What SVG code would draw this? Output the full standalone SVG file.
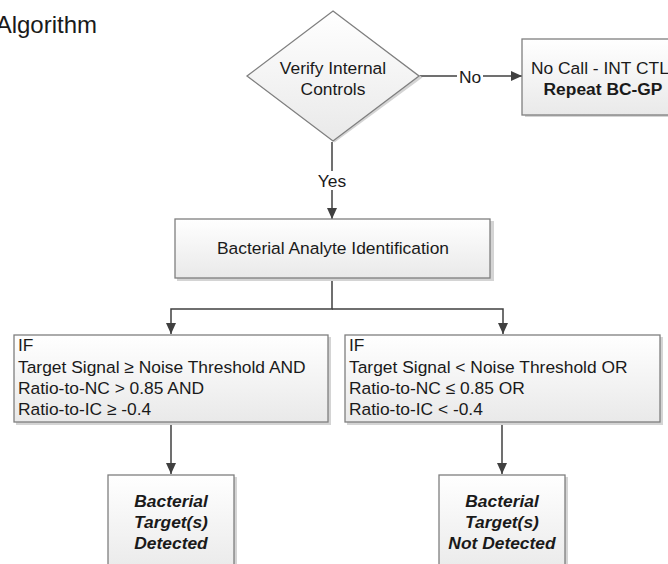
<svg xmlns="http://www.w3.org/2000/svg" width="668" height="564" viewBox="0 0 668 564">
<defs>
<linearGradient id="g" x1="0" y1="0" x2="0" y2="1">
<stop offset="0" stop-color="#ffffff"/>
<stop offset="1" stop-color="#e9e9e9"/>
</linearGradient>
<marker id="arr" markerWidth="12" markerHeight="12" refX="11" refY="5" orient="auto" markerUnits="userSpaceOnUse">
<path d="M0,0 L11,5 L0,10 Z" fill="#404040"/>
</marker>
<style>
text{font-family:"Liberation Sans",Arial,sans-serif;font-size:17.4px;fill:#1a1a1a}
.box{fill:url(#g);stroke:#7f7f7f;stroke-width:1.3}
.sh{fill:#d4d4d4}
.ln{stroke:#404040;stroke-width:1.5;fill:none}
.b{font-weight:bold}
.bi{font-weight:bold;font-style:italic}
.lbl{fill:#ffffff}
</style>
</defs>
<rect width="668" height="564" fill="#ffffff"/>
<text x="97" y="33" text-anchor="end" style="font-size:24px">Algorithm</text>

<g id="connectors">
<line class="ln" x1="419" y1="76" x2="522" y2="76" marker-end="url(#arr)"/>
<rect class="lbl" x="457" y="68" width="26" height="17"/>
<text x="470" y="83" text-anchor="middle">No</text>
<line class="ln" x1="332" y1="142" x2="332" y2="219" marker-end="url(#arr)"/>
<rect class="lbl" x="316" y="171" width="33" height="19"/>
<text x="332" y="187" text-anchor="middle">Yes</text>
<polyline class="ln" points="332,278 332,309 171,309 171,334" marker-end="url(#arr)"/>
<polyline class="ln" points="332,309 503,309 503,334" marker-end="url(#arr)"/>
<line class="ln" x1="171" y1="422" x2="171" y2="474" marker-end="url(#arr)"/>
<line class="ln" x1="502" y1="422" x2="502" y2="474" marker-end="url(#arr)"/>
</g>

<g id="verify">
<polygon points="333,11 421,76 333,141 247,76" fill="#d4d4d4" transform="translate(1.5,1.5)"/>
<polygon class="box" points="333,11 419,76 333,141 247,76"/>
<text x="333" y="74" text-anchor="middle">Verify Internal</text>
<text x="333" y="95" text-anchor="middle">Controls</text>
</g>

<g id="nocall">
<rect class="sh" x="525" y="41" width="160" height="76"/>
<rect class="box" x="522" y="39" width="160" height="76"/>
<text x="531" y="74">No Call - INT CTL</text>
<text x="603" y="95" text-anchor="middle" class="b">Repeat BC-GP</text>
</g>

<g id="bacterial">
<rect class="sh" x="177" y="221" width="317" height="60"/>
<rect class="box" x="175" y="219" width="315" height="59"/>
<text x="333" y="254" text-anchor="middle">Bacterial Analyte Identification</text>
</g>

<g id="ifdetected">
<rect class="sh" x="16" y="337" width="315" height="88"/>
<rect class="box" x="14" y="335" width="314" height="87"/>
<text x="18" y="351">IF</text>
<text x="18" y="373">Target Signal ≥ Noise Threshold AND</text>
<text x="18" y="394">Ratio-to-NC &gt; 0.85 AND</text>
<text x="18" y="415">Ratio-to-IC ≥ -0.4</text>
</g>

<g id="ifnotdetected">
<rect class="sh" x="347" y="337" width="316" height="88"/>
<rect class="box" x="345" y="335" width="315" height="87"/>
<text x="349" y="351">IF</text>
<text x="349" y="373">Target Signal &lt; Noise Threshold OR</text>
<text x="349" y="394">Ratio-to-NC ≤ 0.85 OR</text>
<text x="349" y="415">Ratio-to-IC &lt; -0.4</text>
</g>

<g id="detected">
<rect class="sh" x="110" y="477" width="127" height="100"/>
<rect class="box" x="108" y="475" width="126" height="100"/>
<text x="171" y="507" text-anchor="middle" class="bi">Bacterial</text>
<text x="171" y="528" text-anchor="middle" class="bi">Target(s)</text>
<text x="171" y="549" text-anchor="middle" class="bi">Detected</text>
</g>

<g id="notdetected">
<rect class="sh" x="441" y="477" width="127" height="100"/>
<rect class="box" x="439" y="475" width="126" height="100"/>
<text x="502" y="507" text-anchor="middle" class="bi">Bacterial</text>
<text x="502" y="528" text-anchor="middle" class="bi">Target(s)</text>
<text x="502" y="549" text-anchor="middle" class="bi">Not Detected</text>
</g>
</svg>
